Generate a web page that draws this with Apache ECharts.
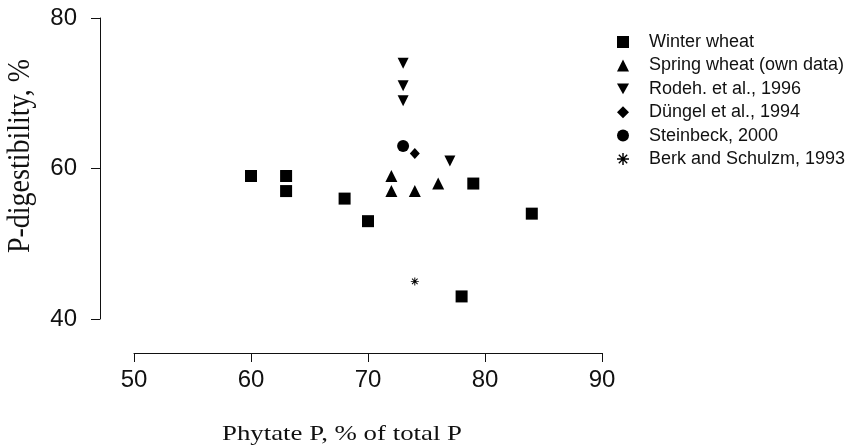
<!DOCTYPE html>
<html>
<head>
<meta charset="utf-8">
<script src="https://cdn.jsdelivr.net/npm/echarts@6/dist/echarts.min.js"></script>
<style>
  html, body { margin: 0; padding: 0; background: #fff; }
  #chart { width: 850px; height: 448px; }
</style>
</head>
<body>
<div id="chart"></div>
<script>
// values
var seriesNames = ['Winter wheat', 'Spring wheat (own data)', 'Rodeh. et al., 1996',
                   'Düngel et al., 1994', 'Steinbeck, 2000', 'Berk and Schulzm, 1993'];

var winterX = [60, 63, 63, 68, 70, 79, 84, 78];
var winterY = [59, 59, 57, 56, 53, 58, 54, 43];
var springX = [72, 72, 74, 76];
var springY = [59, 57, 57, 58];
var rodehX  = [73, 73, 73, 77];
var rodehY  = [74, 71, 69, 61];
var dungelX = [74];
var dungelY = [62];
var steinX  = [73];
var steinY  = [63];
var berkX   = [74];
var berkY   = [45];

var xTicks = [50, 60, 70, 80, 90];
var yTicks = [40, 60, 80];

function pairs(xs, ys) {
  return xs.map(function (x, i) { return [x, ys[i]]; });
}

// symbols
var downTri = 'path://M0,0 L10,0 L5,9 Z';
var star = 'path://M0,4.4 L10,4.4 L10,5.6 L0,5.6 Z M4.4,0 L5.6,0 L5.6,10 L4.4,10 Z ' +
           'M1.1,1.9 L1.9,1.1 L8.9,8.1 L8.1,8.9 Z M8.1,1.1 L8.9,1.9 L1.9,8.9 L1.1,8.1 Z';

var sets = [
  { x: winterX, y: winterY, symbol: 'rect', size: 12 },
  { x: springX, y: springY, symbol: 'triangle', size: 12 },
  { x: rodehX,  y: rodehY,  symbol: downTri, size: 11 },
  { x: dungelX, y: dungelY, symbol: 'diamond', size: [10, 11] },
  { x: steinX,  y: steinY,  symbol: 'circle', size: 12 },
  { x: berkX,   y: berkY,   symbol: star, size: 8 }
];

var series = sets.map(function (s, i) {
  return {
    name: seriesNames[i],
    type: 'scatter',
    data: pairs(s.x, s.y),
    symbol: s.symbol,
    symbolSize: s.size,
    itemStyle: { color: '#000', opacity: 1 }
  };
});

var chart = echarts.init(document.getElementById('chart'));

var option = {
  animation: false,
  backgroundColor: '#fff',
  grid: { left: 134, right: 248, top: 18, bottom: 129 },
  legend: {
    orient: 'vertical',
    left: 612,
    top: 27,
    itemWidth: 12,
    itemHeight: 12,
    itemGap: 3.4,
    data: seriesNames,
    formatter: function (n) { return '   ' + n; },
    textStyle: { fontFamily: 'Liberation Sans', fontSize: 18, color: '#111', lineHeight: 20 }
  },
  xAxis: {
    type: 'value',
    min: xTicks[0],
    max: xTicks[xTicks.length - 1],
    interval: 10,
    offset: 34,
    splitLine: { show: false },
    axisLine: { show: true, onZero: false, lineStyle: { color: '#111', width: 1 } },
    axisTick: { show: true, length: 9, lineStyle: { color: '#111' } },
    axisLabel: { margin: 15, fontFamily: 'Liberation Sans', fontSize: 24, color: '#111' }
  },
  yAxis: {
    type: 'value',
    min: yTicks[0],
    max: yTicks[yTicks.length - 1],
    interval: 20,
    offset: 34,
    splitLine: { show: false },
    axisLine: { show: true, onZero: false, lineStyle: { color: '#111', width: 1 } },
    axisTick: { show: true, length: 9, lineStyle: { color: '#111' } },
    axisLabel: { margin: 23, fontFamily: 'Liberation Sans', fontSize: 24, color: '#111' }
  },
  graphic: [
    {
      type: 'text', x: 342, y: 434, scaleX: 1.22,
      style: {
        text: 'Phytate P, % of total P', fill: '#111',
        font: '22px "Liberation Serif"', textAlign: 'center', textVerticalAlign: 'middle'
      }
    },
    {
      type: 'text', x: 21, y: 156, rotation: Math.PI / 2, scaleY: 1.1,
      style: {
        text: 'P-digestibility, %', fill: '#111',
        font: '28px "Liberation Serif"', textAlign: 'center', textVerticalAlign: 'middle'
      }
    }
  ],
  series: series
};

chart.setOption(option);
</script>
</body>
</html>
